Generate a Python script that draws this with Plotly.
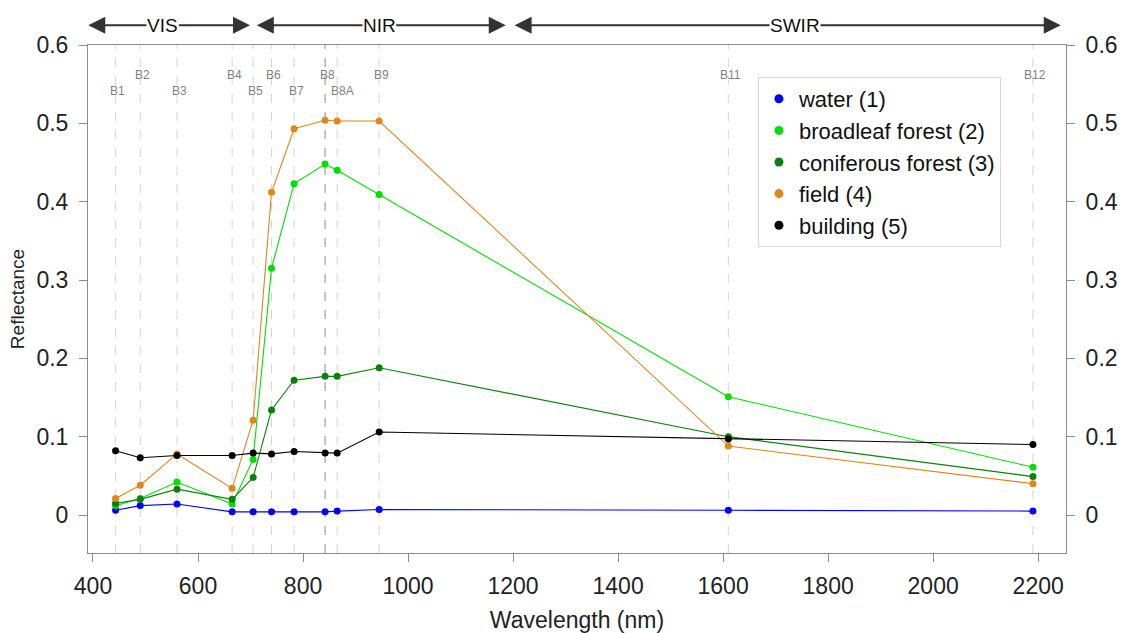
import plotly.graph_objects as go

# Sentinel-2 band centres (nm)
bands = ["B1", "B2", "B3", "B4", "B5", "B6", "B7", "B8", "B8A", "B9", "B11", "B12"]
wavelength = [443, 490, 560, 665, 705, 740, 783, 842, 865, 945, 1610, 2190]
band_row = [0, 1, 0, 1, 0, 1, 0, 1, 0, 1, 1, 1]  # 1 = upper label row

water = [0.006, 0.012, 0.014, 0.004, 0.004, 0.004, 0.004, 0.004, 0.005, 0.007, 0.006, 0.005]
broadleaf = [0.012, 0.021, 0.042, 0.014, 0.071, 0.315, 0.423, 0.448, 0.440, 0.409, 0.151, 0.061]
coniferous = [0.015, 0.020, 0.033, 0.020, 0.048, 0.134, 0.172, 0.177, 0.177, 0.188, 0.100, 0.049]
field = [0.021, 0.038, 0.078, 0.034, 0.121, 0.412, 0.493, 0.504, 0.503, 0.503, 0.088, 0.040]
building = [0.082, 0.073, 0.076, 0.076, 0.079, 0.078, 0.081, 0.079, 0.079, 0.106, 0.097, 0.090]

series = [
    ("water (1)", water, "#0000ff"),
    ("broadleaf forest (2)", broadleaf, "#00e000"),
    ("coniferous forest (3)", coniferous, "#0a820a"),
    ("field (4)", field, "#e0861a"),
    ("building (5)", building, "#000000"),
]

# spectral regions drawn as arrows above the plot: (label, start, end, label position)
regions = [("VIS", 391, 699, 533), ("NIR", 712, 1186, 945), ("SWIR", 1203, 2243, 1737)]

x_range = [390.5, 2253]
y_range = [-0.0485, 0.6]
axis_grey = "#8c8c8c"

fig = go.Figure()

for name, vals, color in series:
    fig.add_trace(go.Scatter(
        x=wavelength, y=vals, mode="lines+markers", name=name,
        line=dict(color=color, width=1.1), marker=dict(color=color, size=7),
        showlegend=False,
    ))

# legend-only entries (dots only), also anchor the right-hand axis
for i, (name, vals, color) in enumerate(series):
    fig.add_trace(go.Scatter(
        x=[None], y=[None], mode="markers", name=name, yaxis="y2",
        marker=dict(color=color, size=9), legendgroup=str(i),
    ))

# band guide lines and labels
for band, wl, row in zip(bands, wavelength, band_row):
    fig.add_shape(type="line", xref="x", yref="paper", x0=wl, x1=wl, y0=0, y1=1,
                  line=dict(color="#8a8a8a" if band == "B8" else "#d4d4d4", width=1, dash="dash"),
                  layer="below")
    fig.add_annotation(x=wl, xref="x", yref="paper", y=0.959 if row else 0.927,
                       text=band, showarrow=False, xshift=5 if band == "B8A" else 2,
                       font=dict(size=12, color="#7f7f7f", family="Liberation Sans"))

# region arrows: plain arrows first, then labelled ones with white background
for label, lo, hi, mid in regions:
    fig.add_annotation(x=lo, y=1.039, xref="x", yref="paper", ax=mid, ay=0,
                       axref="x", ayref="pixel", text="", showarrow=True,
                       arrowhead=2, arrowsize=1.7, arrowwidth=2, arrowcolor="#333333")
for label, lo, hi, mid in regions:
    fig.add_annotation(x=hi, y=1.039, xref="x", yref="paper", ax=mid, ay=0,
                       axref="x", ayref="pixel", text=label, showarrow=True,
                       arrowhead=2, arrowsize=1.7, arrowwidth=2, arrowcolor="#333333",
                       bgcolor="white", borderpad=0,
                       font=dict(size=19, color="#111111", family="Liberation Sans"))

fig.update_layout(
    width=1123, height=633,
    margin=dict(l=88, r=57, t=45, b=80),
    paper_bgcolor="white", plot_bgcolor="white",
    font=dict(family="Liberation Sans, Arial", color="#222222"),
    showlegend=True,
    legend=dict(x=0.685, y=0.937, xanchor="left", yanchor="top",
                bordercolor="#d6d6d6", borderwidth=1, bgcolor="white",
                font=dict(size=22, color="#111111"), tracegroupgap=0,
                itemwidth=30),
    xaxis=dict(
        range=x_range, tickvals=list(range(400, 2201, 200)),
        showgrid=False, zeroline=False, showline=True, linecolor=axis_grey, mirror=True,
        ticks="outside", ticklen=8, tickcolor=axis_grey, ticklabelstandoff=4,
        tickfont=dict(size=23, color="#222222"),
        title=dict(text="Wavelength (nm)", standoff=14, font=dict(size=23)),
        automargin=False,
    ),
    yaxis=dict(
        range=y_range, tickvals=[0, 0.1, 0.2, 0.3, 0.4, 0.5, 0.6],
        showgrid=False, zeroline=False, showline=True, linecolor=axis_grey,
        ticks="outside", ticklen=8, tickcolor=axis_grey, ticklabelstandoff=6,
        tickfont=dict(size=23, color="#222222"),
        title=dict(text="Reflectance", standoff=6, font=dict(size=19)),
        automargin=False,
    ),
    yaxis2=dict(
        range=y_range, tickvals=[0, 0.1, 0.2, 0.3, 0.4, 0.5, 0.6],
        overlaying="y", side="right",
        showgrid=False, zeroline=False, showline=True, linecolor=axis_grey,
        ticks="outside", ticklen=8, tickcolor=axis_grey, ticklabelstandoff=6,
        tickfont=dict(size=23, color="#222222"), automargin=False,
    ),
)

fig.write_html("out.html", config={"displayModeBar": False},
               post_script="document.body.style.margin='0px';")
